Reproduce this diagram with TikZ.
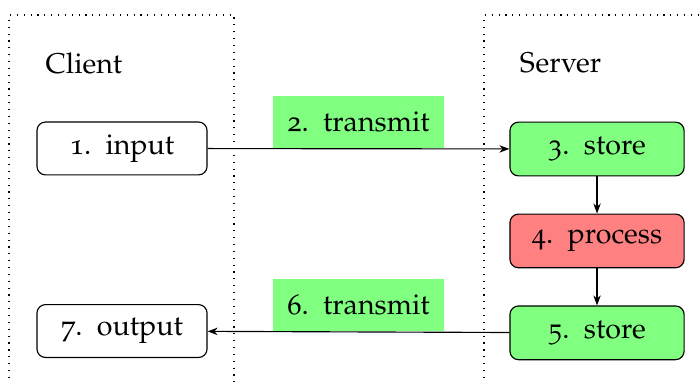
\documentclass[tikz,border=0pt]{standalone}
\usepackage[T1]{fontenc}
\usepackage[osf]{mathpazo}
\usepackage{tikz}
\usetikzlibrary{positioning,arrows.meta}
\definecolor{stepgreen}{RGB}{128,255,128}
\definecolor{stepred}{RGB}{255,128,128}

\tikzset{
  stepbox/.style={draw,rounded corners=3pt,line width=0.4pt,
    minimum width=2.09cm,minimum height=0.65cm,inner sep=2pt},
  srvbox/.style={stepbox,minimum width=2.14cm,minimum height=0.66cm},
  msgbox/.style={fill=stepgreen,minimum width=2.09cm,minimum height=0.64cm,
    inner sep=0pt,anchor=south},
  flow/.style={-{Stealth[length=3.5pt,width=2.6pt]},line width=0.4pt},
  lane/.style={dotted,line width=0.4pt}
}

\begin{document}
\begin{tikzpicture}[x=1cm,y=1cm]
  \def\W{8.60}
  \def\H{4.681}
  \useasboundingbox (0,0) rectangle (\W,\H);
  % lanes
  \draw[lane] (0.111,-0.3) -- (0.111,4.497) -- (2.875,4.497) -- (2.875,-0.3);
  \draw[lane] (5.946,-0.3) -- (5.946,4.497) -- (\W+0.3,4.497);
  \node (client) at (1.032,3.907) {Client};
  \node (server) at (6.886,3.907) {Server};
  % client side
  \node[stepbox] (input) at (1.499,2.857) {1.\enspace input};
  \node[stepbox] (output) at (1.499,0.614) {7.\enspace output};
  % server side
  \node[srvbox,fill=stepgreen] (store1) at (7.335,2.850) {3.\enspace store};
  \node[srvbox,fill=stepred,below=0.455cm of store1] (process) {4.\enspace process};
  \node[srvbox,fill=stepgreen,below=0.455cm of process] (store2) {5.\enspace store};
  % messages
  \draw[flow] (input) -- node[msgbox,midway] (send) {2.\enspace transmit} (store1);
  \draw[flow] (store2) -- node[msgbox,midway] (reply) {6.\enspace transmit} (output);
  \draw[flow] (store1) -- (process);
  \draw[flow] (process) -- (store2);
\end{tikzpicture}
\end{document}
